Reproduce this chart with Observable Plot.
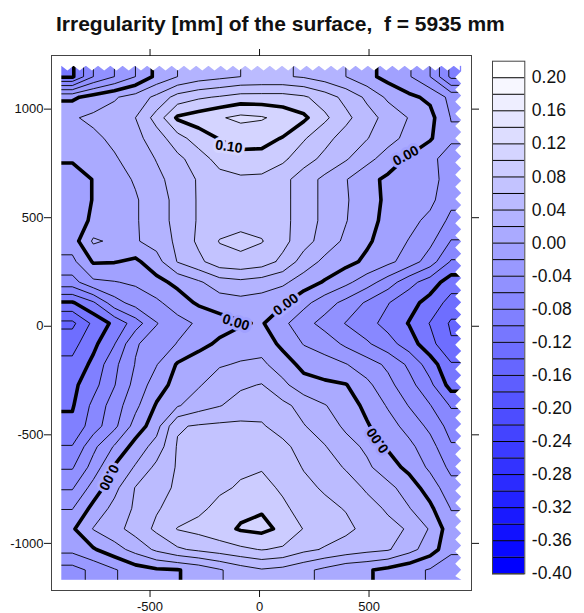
<!DOCTYPE html>
<html><head><meta charset="utf-8">
<script src="https://cdn.jsdelivr.net/npm/d3@7"></script>
<script src="https://cdn.jsdelivr.net/npm/@observablehq/plot@0.6"></script>
<style>
body{margin:0;background:#fff;}
#wrap{position:relative;width:584px;height:613px;overflow:hidden;font-family:"Liberation Sans",Arial,sans-serif;}
#title{position:absolute;left:56px;top:13px;font-weight:bold;font-size:21px;line-height:21px;white-space:pre;color:#111;}
#wrap svg{position:absolute;top:0;}
</style></head><body>
<div id="wrap"><div id="title">Irregularity [mm] of the surface,  f = 5935 mm</div></div>
<script>
// ---------- data ----------
const xTicks = [-500, 0, 500];
const yTicks = [-1000, -500, 0, 500, 1000];
const levels = [-0.40,-0.38,-0.36,-0.34,-0.32,-0.30,-0.28,-0.26,-0.24,-0.22,-0.20,-0.18,-0.16,-0.14,-0.12,-0.10,-0.08,-0.06,-0.04,-0.02,0.00,0.02,0.04,0.06,0.08,0.10,0.12,0.14,0.16,0.18,0.20];
const colorbarLabels = ["0.20","0.16","0.12","0.08","0.04","0.00","-0.04","-0.08","-0.12","-0.16","-0.20","-0.24","-0.28","-0.32","-0.36","-0.40"];
// plot frame [mm]
const xFrame = [-950, 968], yFrame = [-1217, 1247];
// measured surface extent [mm]
const xLeft = -903, xRight = 923, yTop = 1197, yBottom = -1170;
// irregularity [mm] on a regular grid, rows from top (y = yTop) to bottom, columns from left to right
const surfaceRows = [
[-0.103,-0.06,-0.04,-0.02,0.005,0.02,0.03,0.035,0.04,0.042,0.042,0.038,0.03,0.02,0.006,-0.007,-0.018,-0.04,-0.085],
[-0.004,0.008,0.018,0.028,0.045,0.068,0.077,0.082,0.088,0.088,0.088,0.083,0.07,0.054,0.036,0.016,0.004,-0.004,-0.026],
[0.018,0.024,0.028,0.04,0.068,0.103,0.11,0.118,0.125,0.122,0.113,0.104,0.084,0.065,0.048,0.033,0.019,0.006,-0.021],
[0.008,0.016,0.024,0.034,0.05,0.072,0.09,0.101,0.106,0.106,0.099,0.082,0.066,0.052,0.041,0.027,0.014,0.002,-0.016],
[0.003,0.01,0.018,0.028,0.041,0.055,0.07,0.088,0.095,0.094,0.084,0.068,0.055,0.042,0.026,0.011,-0.003,-0.014,-0.031],
[-0.012,0.001,0.012,0.022,0.035,0.048,0.062,0.072,0.076,0.075,0.066,0.05,0.035,0.021,0.006,-0.004,-0.009,-0.014,-0.028],
[-0.012,0.001,0.01,0.018,0.031,0.046,0.062,0.068,0.071,0.071,0.066,0.05,0.035,0.022,0.008,-0.004,-0.009,-0.015,-0.035],
[-0.012,0.004,0.014,0.018,0.031,0.046,0.062,0.07,0.074,0.073,0.066,0.05,0.035,0.021,0.006,-0.005,-0.014,-0.025,-0.045],
[-0.01,0.023,0.016,0.018,0.028,0.044,0.064,0.081,0.085,0.081,0.066,0.048,0.031,0.016,0.003,-0.009,-0.021,-0.035,-0.061],
[-0.025,0.002,0.001,-0.004,0.012,0.041,0.055,0.072,0.075,0.07,0.055,0.031,0.015,0.006,-0.004,-0.015,-0.029,-0.05,-0.082],
[-0.048,-0.024,-0.021,-0.017,-0.006,0.005,0.017,0.031,0.035,0.031,0.024,0.01,-0.002,-0.015,-0.031,-0.05,-0.073,-0.09,-0.11],
[-0.102,-0.083,-0.048,-0.032,-0.024,-0.01,0.003,0.01,0.013,0.01,0.003,-0.014,-0.031,-0.046,-0.063,-0.079,-0.093,-0.107,-0.128],
[-0.145,-0.115,-0.095,-0.07,-0.041,-0.027,-0.017,-0.009,-0.002,0.002,-0.015,-0.033,-0.047,-0.061,-0.073,-0.087,-0.101,-0.121,-0.143],
[-0.127,-0.105,-0.081,-0.042,-0.031,-0.019,-0.007,0.004,0.01,0.012,-0.005,-0.021,-0.029,-0.044,-0.057,-0.072,-0.09,-0.113,-0.138],
[-0.115,-0.095,-0.065,-0.039,-0.021,0.002,0.012,0.018,0.022,0.024,0.01,-0.006,-0.012,-0.019,-0.031,-0.044,-0.064,-0.09,-0.118],
[-0.105,-0.087,-0.061,-0.033,-0.01,0.008,0.018,0.031,0.037,0.041,0.025,0.008,0.004,0.001,-0.015,-0.034,-0.053,-0.075,-0.108],
[-0.102,-0.075,-0.05,-0.025,0.002,0.018,0.031,0.039,0.048,0.052,0.045,0.033,0.021,0.01,-0.005,-0.022,-0.041,-0.059,-0.082],
[-0.095,-0.07,-0.045,-0.012,0.012,0.058,0.062,0.064,0.064,0.062,0.052,0.041,0.031,0.016,0.002,-0.012,-0.027,-0.045,-0.068],
[-0.079,-0.045,-0.018,0.008,0.028,0.062,0.068,0.072,0.075,0.072,0.065,0.052,0.041,0.028,0.016,-0.002,-0.015,-0.032,-0.058],
[-0.062,-0.032,0.002,0.022,0.045,0.062,0.068,0.073,0.077,0.078,0.068,0.059,0.05,0.038,0.024,0.008,-0.005,-0.024,-0.045],
[-0.042,-0.012,0.014,0.041,0.053,0.063,0.072,0.077,0.082,0.088,0.076,0.064,0.058,0.05,0.037,0.026,0.01,-0.009,-0.033],
[-0.021,0.006,0.026,0.043,0.058,0.068,0.076,0.085,0.095,0.098,0.085,0.07,0.064,0.059,0.048,0.037,0.021,0.004,-0.021],
[-0.003,0.021,0.033,0.048,0.064,0.081,0.086,0.093,0.102,0.105,0.096,0.079,0.071,0.064,0.055,0.046,0.038,0.018,-0.012],
[-0.014,-0.002,0.012,0.027,0.044,0.057,0.064,0.07,0.076,0.081,0.077,0.065,0.058,0.052,0.046,0.042,0.027,0.01,-0.015],
[-0.048,-0.035,-0.022,-0.009,-0.003,-0.001,0.006,0.018,0.03,0.038,0.034,0.025,0.015,0.005,0.002,-0.005,-0.013,-0.022,-0.035]
];
// contour labels
const labelText = ["0.10", "0.00", "0.00", "0.00", "0.00", "0.00"];
const labelX = [-140, 668, -108, 120, -688, 540];
const labelY = [827, 785, 17, 100, -696, -526];
const labelAngle = [8, -28, 17, -36, 117, -125];

// ---------- derived ----------
const W = surfaceRows[0].length, H = surfaceRows.length;
const flat = surfaceRows.flat();
const kx = (xRight - xLeft) / W, ky = (yBottom - yTop) / H;
// one-cell padding (edge values repeated) so the measured area keeps square corners
const padRow = r => [r[0], ...r, r[r.length - 1]];
const padded = [padRow(surfaceRows[0]), ...surfaceRows.map(padRow), padRow(surfaceRows[H - 1])];
const W2 = W + 2, H2 = H + 2;
const flat2 = padded.flat();
const gx1 = xLeft - kx, gx2 = xRight + kx, gy1 = yTop - ky, gy2 = yBottom + ky;

const colorSpec = {type: "linear", domain: [-0.40, 0.20], range: ["#0000ff", "#ffffff"], interpolate: "rgb"};
const bandColor = d3.scaleLinear([-0.40, 0.20], ["#0000ff", "#ffffff"]).interpolate(d3.interpolateRgb).clamp(true);

const eps = 1e-9;
const onEdge = p => p[0] <= eps || p[0] >= W2 - eps || p[1] <= eps || p[1] >= H2 - eps;
const gen = d3.contours().size([W2, H2]).smooth(true);
const thinPts = [], thickPts = [];
let pid = 0;
for (const t of levels) {
  const thick = Math.abs(Math.round(t * 100)) % 10 === 0;
  const geom = gen.contour(flat2, t);
  for (const poly of geom.coordinates) for (const ring of poly) {
    const paths = []; let cur = [];
    for (let i = 0; i < ring.length; i++) {
      const p = ring[i];
      if (i > 0 && onEdge(p) && onEdge(ring[i - 1])) { if (cur.length > 1) paths.push(cur); cur = []; }
      cur.push(p);
    }
    if (cur.length > 1) paths.push(cur);
    if (paths.length > 1 && !onEdge(ring[0])) { const last = paths.pop(); paths[0] = last.concat(paths[0].slice(1)); }
    for (const path of paths) {
      pid++;
      for (const p of path) (thick ? thickPts : thinPts).push({x: gx1 + p[0] * kx, y: gy1 + p[1] * ky, id: pid});
    }
  }
}

// white saw-tooth edges of the measured area
const toothStep = 56;
const topEdge = [];
for (let x = xLeft, k = 0; x <= xRight + 1e-6; x += toothStep / 2, k++) topEdge.push({x, y: k % 2 ? yTop - 21 : yTop});
const rightEdge = [];
for (let y = yTop - 25, k = 0; y >= yBottom - 1e-6; y -= toothStep / 2, k++) rightEdge.push({y, x: k % 2 ? xRight - 27 : xRight});
rightEdge.push({y: yBottom, x: xRight});
// white margins between measured area and frame
const margins = [
  {x1: xFrame[0], x2: xLeft, y1: yFrame[0], y2: yFrame[1]},
  {x1: xRight, x2: xFrame[1], y1: yFrame[0], y2: yFrame[1]},
  {x1: xFrame[0], x2: xFrame[1], y1: yTop, y2: yFrame[1]},
  {x1: xFrame[0], x2: xFrame[1], y1: yFrame[0], y2: yBottom}
];

function haloAt(x, y) {
  const c = Math.max(0, Math.min(W - 1, Math.floor((x - xLeft) / kx)));
  const r = Math.max(0, Math.min(H - 1, Math.floor((y - yTop) / ky)));
  const v = flat[r * W + c];
  return bandColor(Math.floor(v / 0.02 + 1e-6) * 0.02);
}

const labelMarks = labelText.map((txt, i) => Plot.text([txt], {
  x: () => labelX[i], y: () => labelY[i], text: d => d, rotate: labelAngle[i],
  fontWeight: "bold", fontSize: 14, fill: "#000", stroke: haloAt(labelX[i], labelY[i]), strokeWidth: 6,
  fontFamily: "Liberation Sans, Arial, sans-serif"
}));

const main = Plot.plot({
  width: 480, height: 613,
  marginLeft: 51, marginRight: 9, marginTop: 55, marginBottom: 23,
  x: {domain: xFrame, label: null},
  y: {domain: yFrame, label: null},
  color: colorSpec,
  style: {fontFamily: "Liberation Sans, Arial, sans-serif", fontSize: "13px", color: "#111", background: "transparent"},
  marks: [
    Plot.contour(flat2, {width: W2, height: H2, x1: gx1, y1: gy1, x2: gx2, y2: gy2, thresholds: levels, fill: Plot.identity, stroke: "none", clip: true}),
    Plot.line(thinPts, {x: "x", y: "y", z: "id", stroke: "#000", strokeWidth: 0.9, strokeLinejoin: "round", clip: true}),
    Plot.line(thickPts, {x: "x", y: "y", z: "id", stroke: "#000", strokeWidth: 3.6, strokeLinejoin: "round", strokeLinecap: "round", clip: true}),
    ...labelMarks,
    Plot.rect(margins, {x1: "x1", x2: "x2", y1: "y1", y2: "y2", fill: "white"}),
    Plot.areaY(topEdge, {x: "x", y1: "y", y2: () => yTop + 18, fill: "white", curve: "linear"}),
    Plot.areaX(rightEdge, {y: "y", x1: "x", x2: () => xRight + 18, fill: "white", curve: "linear"}),
    Plot.frame({stroke: "#444"}),
    Plot.axisX(xTicks, {anchor: "bottom", tickSize: 7, tickPadding: 4, tickFormat: d => String(d), label: null}),
    Plot.axisX(xTicks, {anchor: "top", tickSize: 7, tickFormat: () => "", label: null}),
    Plot.axisY(yTicks, {anchor: "left", tickSize: 7, tickPadding: 1, tickFormat: d => String(d), label: null}),
    Plot.axisY(yTicks, {anchor: "right", tickSize: 7, tickFormat: () => "", label: null})
  ]
});
main.style.left = "0px";

const labelValues = colorbarLabels.map(Number);
const bar = Plot.plot({
  width: 104, height: 613,
  marginLeft: 12, marginRight: 59.7, marginTop: 60.7, marginBottom: 39.7,
  x: {domain: [0, 1], axis: null},
  y: {domain: [-0.40, 0.22], axis: null},
  color: colorSpec,
  style: {fontFamily: "Liberation Sans, Arial, sans-serif", fontSize: "17.5px", color: "#111", background: "transparent"},
  marks: [
    Plot.rect(levels, {x1: () => 0, x2: () => 1, y1: d => d, y2: d => d + 0.02, fill: d => d}),
    Plot.ruleY(levels, {stroke: "#000", strokeWidth: 1}),
    Plot.frame({stroke: "#444"}),
    Plot.axisY(labelValues, {anchor: "right", tickSize: 0, tickPadding: 7, label: null,
      tickFormat: d => colorbarLabels[labelValues.indexOf(d)]})
  ]
});
bar.style.left = "480px";

const wrap = document.getElementById("wrap");
wrap.appendChild(main);
wrap.appendChild(bar);
</script>
</body></html>
